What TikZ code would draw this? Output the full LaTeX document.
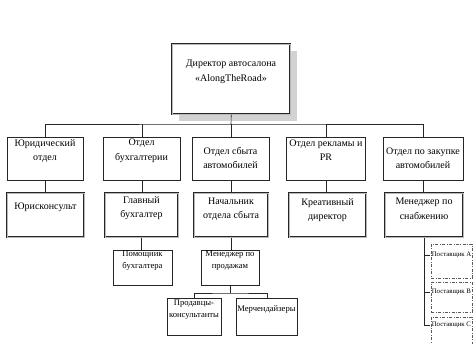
\documentclass[tikz,border=0pt]{standalone}
\usepackage{fontspec}
\setmainfont{Liberation Serif}
\begin{document}
\begin{tikzpicture}[x=1pt,y=-1pt,
  line width=0.6pt,
  plainbox/.style={draw=black!85,line width=0.6pt,fill=white,inner sep=0pt,anchor=north west},
  dblbox/.style={draw=black!85,line width=0.55pt,double=gray!55,double distance=1.1pt,fill=white,inner sep=0pt,anchor=north west},
  supbox/.style={draw=gray!70!black,line width=0.5pt,dash pattern=on 3pt off 1.5pt on 0.8pt off 1.5pt,inner sep=0pt,anchor=north west},
  tbig/.style={align=center,inner sep=0pt,font=\fontsize{10}{14.5}\selectfont},
  tmid/.style={align=center,inner sep=0pt,font=\fontsize{8.6}{12}\selectfont},
  tsmall/.style={anchor=west,inner sep=1.5pt,font=\fontsize{6.8}{8}\selectfont},
  conn/.style={draw=black!85,line width=0.6pt}
]
\useasboundingbox (0,0) rectangle (476,344);
\clip (0,0) rectangle (476,344);
\fill[white] (0,0) rectangle (476,344);

% top box with shadow
\fill[gray!35] (179,51) rectangle (297,121);
\node[dblbox,minimum width=118pt,minimum height=70pt] (dir) at (172,44) {};
\node[tbig] (dirt) at (231,72) {Директор автосалона\\«AlongTheRoad»};

% level 1
\node[plainbox,minimum width=76pt,minimum height=43pt] (la) at (7,137) {};
\node[plainbox,minimum width=77pt,minimum height=43pt] (lb) at (103,137) {};
\node[plainbox,minimum width=77pt,minimum height=43pt] (lc) at (192,137) {};
\node[plainbox,minimum width=79pt,minimum height=43pt] (ld) at (286,137) {};
\node[plainbox,minimum width=80pt,minimum height=43pt] (le) at (383,137) {};
\node[tbig] (lat) at (45,151) {Юридический\\отдел};
\node[tbig] (lbt) at (141.5,151) {Отдел\\бухгалтерии};
\node[tbig] (lct) at (230.5,158) {Отдел сбыта\\автомобилей};
\node[tbig] (ldt) at (326,150) {Отдел рекламы и\\PR};
\node[tbig] (let) at (423,158) {Отдел по закупке\\автомобилей};

% level 2
\node[dblbox,minimum width=77pt,minimum height=44pt] (ma) at (7,193) {};
\node[dblbox,minimum width=73pt,minimum height=44pt] (mb) at (105,193) {};
\node[dblbox,minimum width=74pt,minimum height=44pt] (mc) at (194,193) {};
\node[dblbox,minimum width=77pt,minimum height=44pt] (md) at (289,193) {};
\node[dblbox,minimum width=78pt,minimum height=44pt] (me) at (385,193) {};
\node[tbig] (mat) at (45.5,207) {Юрисконсульт};
\node[tbig] (mbt) at (141.5,208) {Главный\\бухгалтер};
\node[tbig] (mct) at (231,209) {Начальник\\отдела сбыта};
\node[tbig] (mdt) at (327.5,210) {Креативный\\директор};
\node[tbig] (met) at (424,209) {Менеджер по\\снабжению};

% level 3
\node[plainbox,minimum width=59pt,minimum height=35pt] (pa) at (113,250) {};
\node[plainbox,minimum width=58pt,minimum height=35pt] (pm) at (201,250) {};
\node[tmid] (pat) at (142.5,261) {Помощник\\бухгалтера};
\node[tmid] (pmt) at (230,261) {Менеджер по\\продажам};

% level 4
\node[plainbox,minimum width=54pt,minimum height=37pt] (qa) at (167,298) {};
\node[plainbox,minimum width=61pt,minimum height=37pt] (qb) at (236,298) {};
\node[tmid] (qat) at (194,310) {Продавцы-\\консультанты};
\node[tmid] (qbt) at (266.5,309) {Мерчендайзеры};

% suppliers
\node[supbox,minimum width=41pt,minimum height=34pt] (sa) at (431,244) {};
\node[supbox,minimum width=41pt,minimum height=30pt] (sb) at (431,282) {};
\node[supbox,minimum width=41pt,minimum height=34pt] (sc) at (431,317) {};
\node[tsmall] (sat) at (430,255) {Поставщик A};
\node[tsmall] (sbt) at (430,292) {Поставщик B};
\node[tsmall] (sct) at (430,325) {Поставщик C};

% connectors
\coordinate (bus) at (231,124);
\coordinate (bus2) at (230,293);
\draw[conn] (dir.south) -- (bus);
\draw[conn] (la.north) |- (bus) -| (le.north);
\draw[conn] (lb.north) -- (lb.north |- bus);
\draw[conn] (lc.north) -- (lc.north |- bus);
\draw[conn] (ld.north) -- (ld.north |- bus);

\draw[conn] (la.south) -- (la.south |- ma.north);
\draw[conn] (lb.south) -- (lb.south |- mb.north);
\draw[conn] (lc.south) -- (lc.south |- mc.north);
\draw[conn] (ld.south) -- (ld.south |- md.north);
\draw[conn] (le.south) -- (le.south |- me.north);

\draw[conn] (mb.south) -- (mb.south |- pa.north);
\draw[conn] (mc.south) -- (mc.south |- pm.north);

\draw[conn] (pm.south) -- (pm.south |- bus2);
\draw[conn] (qa.north) |- (bus2) -| (qb.north);

\draw[conn] (me.south) |- (sct.west);
\draw[conn] (sat.west) -- (sat.west -| me.south);
\draw[conn] (sbt.west) -- (sbt.west -| me.south);
\end{tikzpicture}
\end{document}
